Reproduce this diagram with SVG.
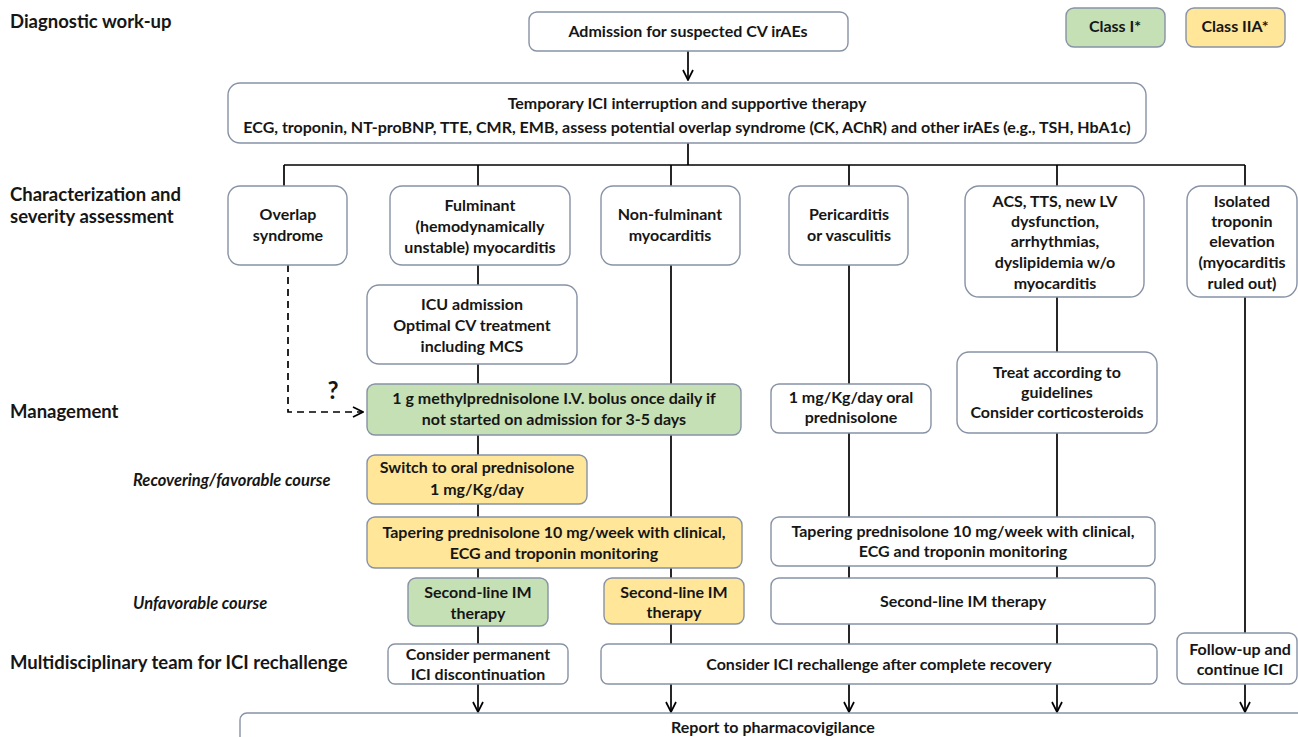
<svg xmlns="http://www.w3.org/2000/svg" width="1298" height="737" viewBox="0 0 1298 737">
<style>
.box{fill:#fff;stroke:#8792a6;stroke-width:1.4}
.g{fill:#c5e0b4}
.y{fill:#ffe699}
.t{font-family:Lato,"Open Sans","Liberation Sans",sans-serif;font-weight:700;font-size:16px;fill:#161616;text-anchor:middle}
.lbl{font-family:Lato,"Open Sans","Liberation Sans",sans-serif;font-weight:700;font-size:18.5px;fill:#161616}
.it{font-family:Lato,"Open Sans","Liberation Sans",sans-serif;font-weight:700;font-style:italic;font-size:16.5px;fill:#161616}
.ln{stroke:#000;stroke-width:1.7;fill:none}
.dash{stroke:#000;stroke-width:1.7;fill:none;stroke-dasharray:7,5}
</style>
<defs>
<marker id="arr" markerUnits="userSpaceOnUse" viewBox="0 0 12 12" refX="11" refY="6" markerWidth="12" markerHeight="12" orient="auto">
<path d="M1,1 L11,6 L1,11" fill="none" stroke="#000" stroke-width="1.7"/>
</marker>
</defs>
<rect width="1298" height="737" fill="#fff"/>

<g id="labels">
<text class="lbl" x="10" y="28">Diagnostic work-up</text>
<text class="lbl" x="10" y="201">Characterization and</text>
<text class="lbl" x="10" y="223">severity assessment</text>
<text class="lbl" x="10" y="418">Management</text>
<text class="it" x="133" y="486">Recovering/favorable course</text>
<text class="it" x="133" y="609">Unfavorable course</text>
<text class="lbl" x="10" y="669">Multidisciplinary team for ICI rechallenge</text>
<text class="lbl" x="333" y="399" style="font-size:24px" text-anchor="middle">?</text>
</g>

<g id="connectors">
<line class="ln" x1="688" y1="51" x2="688" y2="80" marker-end="url(#arr)"/>
<line class="ln" x1="688" y1="143" x2="688" y2="165"/>
<line class="ln" x1="284" y1="165" x2="1245" y2="165"/>
<line class="ln" x1="284" y1="165" x2="284" y2="186"/>
<line class="ln" x1="478" y1="165" x2="478" y2="186"/>
<line class="ln" x1="671" y1="165" x2="671" y2="186"/>
<line class="ln" x1="849" y1="165" x2="849" y2="186"/>
<line class="ln" x1="1057" y1="165" x2="1057" y2="186"/>
<line class="ln" x1="1245" y1="165" x2="1245" y2="186"/>
<path class="dash" d="M288,265 V412 H363" marker-end="url(#arr)"/>
<line class="ln" x1="478" y1="265" x2="478" y2="712" marker-end="url(#arr)"/>
<line class="ln" x1="671" y1="265" x2="671" y2="712" marker-end="url(#arr)"/>
<line class="ln" x1="849" y1="265" x2="849" y2="712" marker-end="url(#arr)"/>
<line class="ln" x1="1057" y1="297" x2="1057" y2="712" marker-end="url(#arr)"/>
<line class="ln" x1="1245" y1="297" x2="1245" y2="712" marker-end="url(#arr)"/>
</g>

<g id="legend-class1"><rect class="box g" x="1066" y="8" width="99" height="39" rx="8"/><text class="t" x="1115" y="32">Class I*</text></g>
<g id="legend-class2a"><rect class="box y" x="1186" y="8" width="99" height="39" rx="8"/><text class="t" x="1235" y="32">Class IIA*</text></g>

<g id="admission"><rect class="box" x="529" y="12" width="319" height="39" rx="8"/><text class="t" x="688" y="37">Admission for suspected CV irAEs</text></g>

<g id="temporary"><rect class="box" x="228" y="83" width="918" height="60" rx="12"/>
<text class="t" x="687" y="109">Temporary ICI interruption and supportive therapy</text>
<text class="t" x="687" y="133">ECG, troponin, NT-proBNP, TTE, CMR, EMB, assess potential overlap syndrome (CK, AChR) and other irAEs (e.g., TSH, HbA1c)</text></g>

<g id="overlap"><rect class="box" x="228" y="186" width="119" height="79" rx="12"/>
<text class="t" x="288" y="220">Overlap</text><text class="t" x="288" y="241">syndrome</text></g>

<g id="fulminant"><rect class="box" x="390" y="186" width="180" height="79" rx="12"/>
<text class="t" x="480" y="211">Fulminant</text><text class="t" x="480" y="232">(hemodynamically</text><text class="t" x="480" y="253">unstable) myocarditis</text></g>

<g id="nonfulminant"><rect class="box" x="601" y="186" width="139" height="79" rx="12"/>
<text class="t" x="670" y="220">Non-fulminant</text><text class="t" x="670" y="241">myocarditis</text></g>

<g id="pericarditis"><rect class="box" x="789" y="186" width="119" height="79" rx="12"/>
<text class="t" x="849" y="220">Pericarditis</text><text class="t" x="849" y="241">or vasculitis</text></g>

<g id="acs"><rect class="box" x="965" y="186" width="179" height="111" rx="14"/>
<text class="t" x="1055" y="207">ACS, TTS, new LV</text><text class="t" x="1055" y="227">dysfunction,</text><text class="t" x="1055" y="247">arrhythmias,</text><text class="t" x="1055" y="268">dyslipidemia w/o</text><text class="t" x="1055" y="289">myocarditis</text></g>

<g id="isolated"><rect class="box" x="1187" y="186" width="110" height="111" rx="14"/>
<text class="t" x="1242" y="207">Isolated</text><text class="t" x="1242" y="227">troponin</text><text class="t" x="1242" y="247">elevation</text><text class="t" x="1242" y="268">(myocarditis</text><text class="t" x="1242" y="289">ruled out)</text></g>

<g id="icu"><rect class="box" x="367" y="285" width="210" height="79" rx="12"/>
<text class="t" x="472" y="310">ICU admission</text><text class="t" x="472" y="331">Optimal CV treatment</text><text class="t" x="472" y="352">including MCS</text></g>

<g id="methylpred"><rect class="box g" x="367" y="384" width="374" height="51" rx="8"/>
<text class="t" x="554" y="404">1 g methylprednisolone I.V. bolus once daily if</text><text class="t" x="554" y="425">not started on admission for 3-5 days</text></g>

<g id="oralpred"><rect class="box" x="771" y="384" width="160" height="49" rx="8"/>
<text class="t" x="851" y="403">1 mg/Kg/day oral</text><text class="t" x="851" y="423">prednisolone</text></g>

<g id="treat"><rect class="box" x="957" y="352" width="200" height="81" rx="12"/>
<text class="t" x="1057" y="378">Treat according to</text><text class="t" x="1057" y="398">guidelines</text><text class="t" x="1057" y="418">Consider corticosteroids</text></g>

<g id="switch"><rect class="box y" x="367" y="455" width="220" height="49" rx="8"/>
<text class="t" x="477" y="473">Switch to oral prednisolone</text><text class="t" x="477" y="495">1 mg/Kg/day</text></g>

<g id="tapering-y"><rect class="box y" x="367" y="517" width="375" height="51" rx="8"/>
<text class="t" x="554" y="538">Tapering prednisolone 10 mg/week with clinical,</text><text class="t" x="554" y="559">ECG and troponin monitoring</text></g>

<g id="tapering-w"><rect class="box" x="771" y="517" width="384" height="49" rx="8"/>
<text class="t" x="963" y="537">Tapering prednisolone 10 mg/week with clinical,</text><text class="t" x="963" y="557">ECG and troponin monitoring</text></g>

<g id="second-g"><rect class="box g" x="408" y="578" width="140" height="48" rx="8"/>
<text class="t" x="478" y="598">Second-line IM</text><text class="t" x="478" y="619">therapy</text></g>

<g id="second-y"><rect class="box y" x="604" y="578" width="140" height="46" rx="8"/>
<text class="t" x="674" y="598">Second-line IM</text><text class="t" x="674" y="618">therapy</text></g>

<g id="second-w"><rect class="box" x="771" y="578" width="384" height="46" rx="8"/>
<text class="t" x="963" y="607">Second-line IM therapy</text></g>

<g id="consider-perm"><rect class="box" x="388" y="644" width="180" height="40" rx="7"/>
<text class="t" x="478" y="660">Consider permanent</text><text class="t" x="478" y="680">ICI discontinuation</text></g>

<g id="consider-ici"><rect class="box" x="601" y="644" width="556" height="40" rx="7"/>
<text class="t" x="879" y="670">Consider ICI  rechallenge after complete recovery</text></g>

<g id="followup"><rect class="box" x="1177" y="633" width="120" height="51" rx="8"/>
<text class="t" x="1240" y="655">Follow-up and</text><text class="t" x="1240" y="675">continue ICI</text></g>

<g id="report"><rect class="box" x="240" y="713" width="1070" height="40" rx="7"/>
<text class="t" x="773" y="733">Report to pharmacovigilance</text></g>
</svg>
